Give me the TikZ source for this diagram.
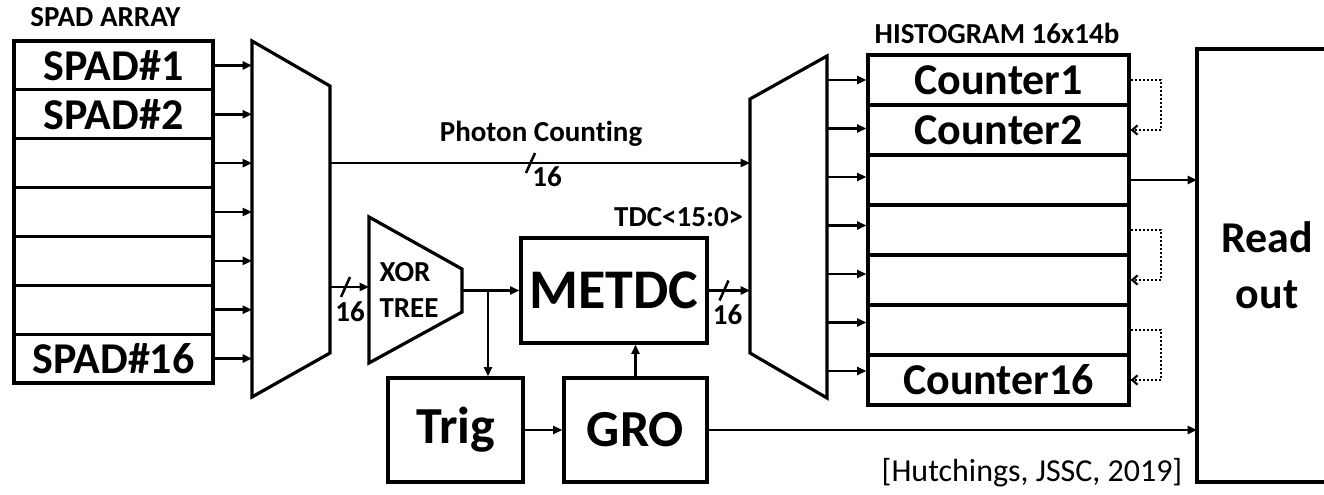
\documentclass[tikz,border=0pt]{standalone}
\usepackage{fontspec}
\setmainfont{Carlito}[Ligatures=NoCommon]
\usetikzlibrary{arrows.meta}
\begin{document}
\begin{tikzpicture}[x=0.75pt,y=-0.75pt,
  box/.style={draw, line width=2.4pt, inner sep=0pt},
  wire/.style={line width=1.9pt},
  arr/.style={wire, -{Triangle[length=7pt,width=6pt]}},
  dots/.style={line width=1.6pt, dash pattern=on 1.5pt off 1.5pt, -{Straight Barb[length=4pt,width=7pt]}},
  lbl/.style={font=\bfseries\fontsize{21.75}{24}\selectfont, inner sep=0pt, anchor=base},
  rowtxt/.style={font=\bfseries\fontsize{33}{36}\selectfont},
  spadrow/.style={box, minimum width=149.25pt, minimum height=36.64pt, rowtxt},
  histrow/.style={box, minimum width=195.75pt, minimum height=37.5pt, rowtxt},
  bigtxt/.style={font=\bfseries\fontsize{39}{44}\selectfont},
]
\useasboundingbox (0,0) rectangle (1324,495);

% ---------- SPAD array ----------
\node[lbl] (spadarr) at (105.5,26.7) {SPAD ARRAY};
\node[spadrow] (s1) at (113.5,65.43) {SPAD\#1};
\node[spadrow] (s2) at (113.5,114.29) {SPAD\#2};
\node[spadrow] (s3) at (113.5,163.14) {};
\node[spadrow] (s4) at (113.5,212.0) {};
\node[spadrow] (s5) at (113.5,260.86) {};
\node[spadrow] (s6) at (113.5,309.71) {};
\node[spadrow] (s7) at (113.5,358.57) {SPAD\#16};

% ---------- first mux ----------
\coordinate (m1a) at (252,41);
\coordinate (m1b) at (330,86);
\coordinate (m1c) at (330,353);
\coordinate (m1d) at (252,397);
\draw[box] (m1a) -- (m1b) -- (m1c) -- (m1d) -- cycle;
\coordinate (m1L) at (252,200);
\foreach \i in {1,...,7} \draw[arr] (s\i.east) -- (s\i.east -| m1L);
\coordinate (m1o1) at (330,163);
\coordinate (m1o2) at (330,287);

% ---------- second mux ----------
\coordinate (m2a) at (750,99);
\coordinate (m2b) at (827,56);
\coordinate (m2c) at (827,398);
\coordinate (m2d) at (750,353);
\draw[box] (m2a) -- (m2b) -- (m2c) -- (m2d) -- cycle;
\coordinate (m2i1) at (750,163);
\coordinate (m2L) at (750,290);

% ---------- photon counting path ----------
\draw[arr] (m1o1) -- (m2i1);
\node[lbl] (pc) at (541,141.5) {Photon Counting};
\coordinate (bs1) at (530.5,163);
\draw[wire] ([shift={(-4.5,10)}]bs1) -- ([shift={(4.5,-10)}]bs1);
\node[lbl] (pc16) at (547,186.7) {16};

% ---------- XOR tree ----------
\coordinate (x1) at (369,217);
\coordinate (x2) at (462,269);
\coordinate (x3) at (462,312);
\coordinate (x4) at (369,363);
\draw[box] (x1) -- (x2) -- (x3) -- (x4) -- cycle;
\node[lbl] (xortxt) at (405,281.7) {XOR};
\node[lbl] (treetxt) at (409,317) {TREE};
\coordinate (xin) at (369,287);
\draw[arr] (m1o2) -- (xin);
\coordinate (bs2) at (345.5,287);
\draw[wire] ([shift={(-4.5,10)}]bs2) -- ([shift={(4.5,-10)}]bs2);
\node[lbl] (x16) at (350,321) {16};

% ---------- METDC, Trig, GRO ----------
\node[box, minimum width=139.5pt, minimum height=78.75pt, font=\bfseries\fontsize{42}{46}\selectfont] (metdc) at (614,290.5) {METDC};
\node[lbl] (tdc) at (678.7,226.7) {TDC<15:0>};
\node[box, minimum width=101.25pt, minimum height=78pt, bigtxt] (trig) at (455.5,430) {Trig};
\node[box, minimum width=107.25pt, minimum height=78pt, bigtxt] (gro) at (635.5,430) {GRO};

\coordinate (xout) at (462,290.5);
\coordinate (br) at (488,290.5);
\draw[arr] (xout) -- (xout -| metdc.west);
\draw[arr] (br) -- (br |- trig.north);
\draw[arr] (trig.east) -- (gro.west);
\draw[arr] (gro.north) -- (gro.north |- metdc.south);
\draw[arr] (metdc.east) -- (metdc.east -| m2L);
\coordinate (bs3) at (724,290.5);
\draw[wire] ([shift={(-4.5,10)}]bs3) -- ([shift={(4.5,-10)}]bs3);
\node[lbl] (m16) at (727.5,325) {16};

% ---------- histogram ----------
\node[lbl] (histtxt) at (997,43.3) {HISTOGRAM 16x14b};
\node[histrow] (h1) at (998.5,80) {Counter1};
\node[histrow] (h2) at (998.5,130) {Counter2};
\node[histrow] (h3) at (998.5,180) {};
\node[histrow] (h4) at (998.5,230) {};
\node[histrow] (h5) at (998.5,280) {};
\node[histrow] (h6) at (998.5,330) {};
\node[histrow] (h7) at (998.5,380) {Counter16};
\foreach \i in {1,...,7} {
  \coordinate (m2o\i) at (827,{80+48.5*(\i-1)});
  \draw[arr] (m2o\i) -- (m2o\i -| h1.west);
}
\draw[dots] (h1.east) -- ++(30,0) |- (h2.east);
\draw[dots] (h4.east) -- ++(30,0) |- (h5.east);
\draw[dots] (h6.east) -- ++(30,0) |- (h7.east);

% ---------- read out ----------
\coordinate (roTL) at (1197,49);
\coordinate (roBL) at (1197,482);
\draw[box] (1324,49) -- (roTL) -- (roBL) -- (1324,482);
\node[font=\bfseries\fontsize{33}{36}\selectfont, anchor=base, inner sep=0pt] (rd) at (1267,253) {Read};
\node[font=\bfseries\fontsize{33}{36}\selectfont, anchor=base, inner sep=0pt] (ou) at (1267,308) {out};
\draw[arr] (h3.east) -- (h3.east -| roTL);
\draw[arr] (gro.east) -- (gro.east -| roTL);

% ---------- citation ----------
\node[anchor=base, inner sep=0pt, font=\fontsize{24}{28}\selectfont] (cite) at (1032,481.7) {[Hutchings, JSSC, 2019]};
\end{tikzpicture}
\end{document}
